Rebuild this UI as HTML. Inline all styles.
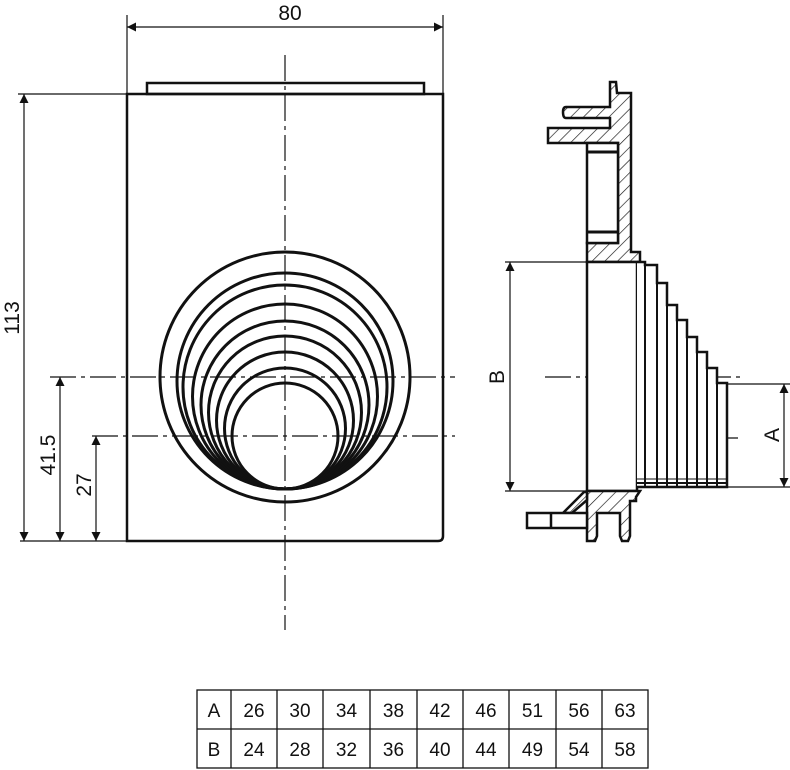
<!DOCTYPE html>
<html><head><meta charset="utf-8"><style>
html,body{margin:0;padding:0;background:#fff}
svg{display:block}
text{font-family:"Liberation Sans",sans-serif;fill:#111}
</style></head><body>
<svg width="790" height="770" viewBox="0 0 790 770" xmlns="http://www.w3.org/2000/svg">
<defs>
<pattern id="h" patternUnits="userSpaceOnUse" width="9" height="9" patternTransform="rotate(45)">
<rect width="9" height="9" fill="#fff"/><line x1="0" y1="0" x2="0" y2="9" stroke="#111" stroke-width="1.3"/>
</pattern>
<marker id="a" viewBox="0 0 10 10" refX="10" refY="5" markerWidth="18" markerHeight="9" markerUnits="userSpaceOnUse" orient="auto-start-reverse">
<path d="M0,0 L10,5 L0,10 z" fill="#111"/></marker>
</defs>
<g stroke="#111" fill="none">
<rect x="147" y="83" width="277" height="11" stroke-width="2.5"/>
<path d="M127,94 H443 V536 Q443,541 438,541 H127 Z" stroke-width="2.5"/>
<g stroke-width="3">
<circle cx="285" cy="377" r="125"/>
<circle cx="285" cy="381" r="108"/>
<circle cx="285" cy="387" r="102"/>
<circle cx="285" cy="396.5" r="92.5"/>
<circle cx="285" cy="405" r="84"/>
<circle cx="285" cy="412.5" r="76.5"/>
<circle cx="285" cy="420.5" r="68.5"/>
<circle cx="285" cy="428.5" r="60.5"/>
<circle cx="285" cy="436" r="53"/>
</g>
<g stroke-width="1.2" stroke-dasharray="26,5,4,5">
<line x1="285" y1="55" x2="285" y2="630"/>
<line x1="50" y1="377" x2="455" y2="377"/>
<line x1="92" y1="436" x2="455" y2="436"/>
<line x1="545" y1="377" x2="740" y2="377"/>
<line x1="632" y1="438" x2="740" y2="438"/>
</g>
<g stroke-width="1.2">
<line x1="127" y1="15" x2="127" y2="94"/><line x1="443" y1="15" x2="443" y2="94"/>
<line x1="127" y1="27" x2="443" y2="27" marker-start="url(#a)" marker-end="url(#a)"/>
<line x1="18" y1="94" x2="127" y2="94"/>
<line x1="20" y1="541" x2="127" y2="541"/>
<line x1="24" y1="94" x2="24" y2="541" marker-start="url(#a)" marker-end="url(#a)"/>
<line x1="60" y1="377" x2="60" y2="541" marker-start="url(#a)" marker-end="url(#a)"/>
<line x1="96" y1="436" x2="96" y2="541" marker-start="url(#a)" marker-end="url(#a)"/>
<line x1="505" y1="262" x2="590" y2="262"/><line x1="505" y1="491" x2="590" y2="491"/>
<line x1="510" y1="262" x2="510" y2="491" marker-start="url(#a)" marker-end="url(#a)"/>
<line x1="727" y1="384" x2="790" y2="384"/><line x1="727" y1="487" x2="790" y2="487"/>
<line x1="784" y1="384" x2="784" y2="487" marker-start="url(#a)" marker-end="url(#a)"/>
</g>
<g stroke-width="2.5">
<path d="M610,82 H616 L617,93 H631 V252 H640 V262 H587 V243 H618 V143 H548 V128 H610 V118 H566 Q563,118 563,112 Q563,107 566,107 H610 Z" fill="url(#h)"/>
<rect x="587" y="143" width="31" height="100" fill="#fff"/>
<line x1="587" y1="152" x2="618" y2="152" stroke-width="3"/>
<line x1="587" y1="232" x2="618" y2="232" stroke-width="3"/>
<rect x="587" y="262" width="50" height="229" fill="#fff"/>
<path d="M637,262 H645 V265 H657 V283 H667 V305 H677 V320 H687 V337 H697 V352 H707 V368 H717 V383 H727 V487 H637" fill="#fff"/>
</g>
<g stroke-width="2">
<line x1="645" y1="265" x2="645" y2="487"/><line x1="657" y1="283" x2="657" y2="487"/>
<line x1="667" y1="305" x2="667" y2="487"/><line x1="677" y1="320" x2="677" y2="487"/>
<line x1="687" y1="337" x2="687" y2="487"/><line x1="697" y1="352" x2="697" y2="487"/>
<line x1="707" y1="368" x2="707" y2="487"/><line x1="717" y1="383" x2="717" y2="487"/>
<line x1="637" y1="483" x2="727" y2="483"/>
<line x1="637" y1="479" x2="727" y2="479" stroke-width="1"/>
</g>
<g stroke-width="2.5">
<path d="M587,491 H640 L636,497 V501 H630 V536 L628,541 H622 L620,536 V513 H597 V536 L595,541 H587 Z" fill="url(#h)"/>
<path d="M563,513 L584,492 H587 V500 L572,513 Z" fill="url(#h)"/>
<rect x="527" y="513" width="60" height="15" fill="#fff"/>
<line x1="551" y1="513" x2="551" y2="528"/>
</g>
<g stroke-width="1.3">
<rect x="197" y="690" width="451" height="78"/>
<line x1="197" y1="729" x2="648" y2="729"/>
<line x1="231" y1="690" x2="231" y2="768"/><line x1="277" y1="690" x2="277" y2="768"/>
<line x1="323" y1="690" x2="323" y2="768"/><line x1="370" y1="690" x2="370" y2="768"/>
<line x1="417" y1="690" x2="417" y2="768"/><line x1="463" y1="690" x2="463" y2="768"/>
<line x1="509" y1="690" x2="509" y2="768"/><line x1="556" y1="690" x2="556" y2="768"/>
<line x1="602" y1="690" x2="602" y2="768"/>
</g>
</g>
<g font-size="21">
<text x="290" y="20" text-anchor="middle">80</text>
<text transform="translate(19,318) rotate(-90)" text-anchor="middle">113</text>
<text transform="translate(55,455) rotate(-90)" text-anchor="middle">41.5</text>
<text transform="translate(91,485) rotate(-90)" text-anchor="middle">27</text>
<text transform="translate(504,377) rotate(-90)" text-anchor="middle">B</text>
<text transform="translate(779,435) rotate(-90)" text-anchor="middle">A</text>
</g>
<g font-size="19" text-anchor="middle">
<text x="214" y="717">A</text><text x="254" y="717">26</text><text x="300" y="717">30</text><text x="346.5" y="717">34</text><text x="393.5" y="717">38</text><text x="440" y="717">42</text><text x="486" y="717">46</text><text x="532.5" y="717">51</text><text x="579" y="717">56</text><text x="625" y="717">63</text>
<text x="214" y="756">B</text><text x="254" y="756">24</text><text x="300" y="756">28</text><text x="346.5" y="756">32</text><text x="393.5" y="756">36</text><text x="440" y="756">40</text><text x="486" y="756">44</text><text x="532.5" y="756">49</text><text x="579" y="756">54</text><text x="625" y="756">58</text>
</g>
</svg>
</body></html>
